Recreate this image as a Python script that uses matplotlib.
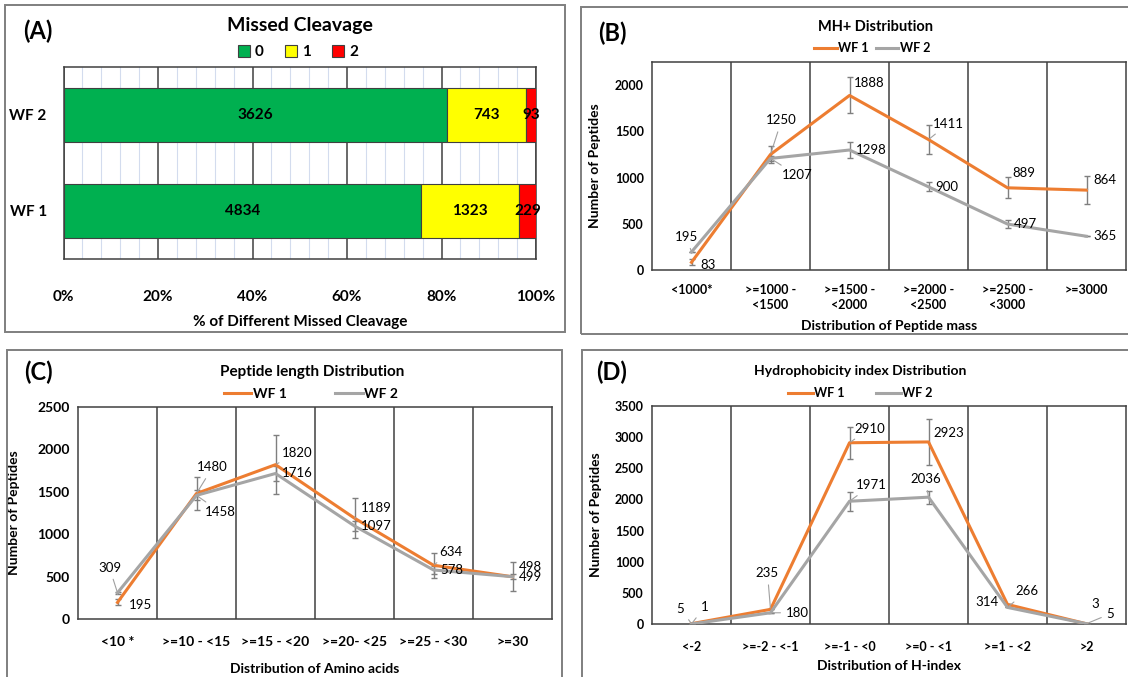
import matplotlib
matplotlib.use("Agg")
import matplotlib.pyplot as plt
from matplotlib.patches import Rectangle, Patch
from matplotlib.lines import Line2D
import numpy as np

plt.rcParams['font.family'] = ['Lato', 'DejaVu Sans']

# ---------------- data ----------------
# (A) Missed cleavage
mc_groups = ["WF 1", "WF 2"]
mc_classes = ["0", "1", "2"]
mc_wf1 = [4834, 1323, 229]
mc_wf2 = [3626, 743, 93]
mc_colors = ["#00B050", "#FFFF00", "#FF0000"]
mc_ticks = ["0%", "20%", "40%", "60%", "80%", "100%"]

# (B) MH+ distribution
mh_cats = ["<1000*", ">=1000 -\n<1500", ">=1500 -\n<2000", ">=2000 -\n<2500", ">=2500 -\n<3000", ">=3000"]
mh_wf1 = [83, 1250, 1888, 1411, 889, 864]
mh_wf2 = [195, 1207, 1298, 900, 497, 365]
mh_err1 = [31, 95, 195, 157, 113, 150]
mh_err2 = [0, 30, 87, 50, 40, 0]

# (C) Peptide length distribution
pl_cats = ["<10 *", ">=10 - <15", ">=15 - <20", ">=20- <25", ">=25 - <30", ">=30"]
pl_wf1 = [195, 1480, 1820, 1189, 634, 498]
pl_wf2 = [309, 1458, 1716, 1097, 578, 499]
pl_err1 = [35, 200, 350, 235, 148, 170]
pl_err2 = [15, 60, 90, 55, 50, 30]

# (D) Hydrophobicity index distribution
hi_cats = ["<-2", ">=-2 - <-1", ">=-1 - <0", ">=0 - <1", ">=1 - <2", ">2"]
hi_wf1 = [5, 235, 2910, 2923, 314, 3]
hi_wf2 = [1, 180, 1971, 2036, 266, 5]
hi_err1 = [0, 0, 259, 375, 0, 0]
hi_err2 = [0, 0, 150, 107, 0, 0]

ORANGE = "#ED7D31"
GRAY = "#A5A5A5"
EGRAY = "#7F7F7F"
DARK = "#404040"

W, H = 1128, 677
fig = plt.figure(figsize=(W / 100, H / 100), dpi=100)


def fx(px):
    return px / W


def fy(py):
    return 1 - py / H


def add_axes(l, t, r, b):
    return fig.add_axes([fx(l), fy(b), fx(r) - fx(l), fy(t) - fy(b)])


# panel frames
for (l, t, r, b) in [(5, 5, 565, 332), (581, 7, 1140, 334), (7, 350, 562, 690), (582, 350, 1140, 690)]:
    fig.add_artist(Rectangle((fx(l), fy(b)), fx(r) - fx(l), fy(t) - fy(b), transform=fig.transFigure,
                             fill=False, edgecolor="#7F7F7F", lw=1.4, clip_on=False))

for lab, (x, y) in zip(["(A)", "(B)", "(C)", "(D)"], [(38, 31), (612, 33), (38, 372), (612, 372)]):
    fig.text(fx(x), fy(y), lab, fontsize=17, fontweight="bold", ha="center", va="center")

# ---------------- (A) ----------------
axA = add_axes(63.5, 67, 536, 259)
tot1 = sum(mc_wf1)
tot2 = sum(mc_wf2)
vals = [mc_wf1, mc_wf2]
tots = [tot1, tot2]
ypos = np.arange(len(mc_groups))
for ci in range(len(mc_classes)):
    widths = [v[ci] / t * 100 for v, t in zip(vals, tots)]
    lefts = [sum(v[:ci]) / t * 100 for v, t in zip(vals, tots)]
    axA.barh(ypos, widths, left=lefts, height=0.57, color=mc_colors[ci], edgecolor="#404040",
             lw=0.8, label=mc_classes[ci], zorder=3)
    for yi, (w, l, v) in enumerate(zip(widths, lefts, vals)):
        axA.text(l + w / 2, yi, str(v[ci]), ha="center", va="center", fontsize=11,
                 fontweight="bold", zorder=4)
axA.set_xlim(0, 100)
axA.set_ylim(-0.5, 1.5)
axA.set_xticks(np.arange(0, 101, 20))
axA.set_xticklabels(mc_ticks, fontsize=11, fontweight="bold")
axA.set_xticks(np.arange(0, 101, 4), minor=True)
axA.set_yticks(ypos)
axA.set_yticklabels(mc_groups, fontsize=11, fontweight="bold")
axA.grid(axis="x", which="major", color="#404040", lw=1.1, zorder=1)
axA.grid(axis="x", which="minor", color="#D3DCEE", lw=0.8, zorder=0)
axA.tick_params(which="both", length=0)
axA.tick_params(axis="x", pad=22)
axA.tick_params(axis="y", pad=12)
for s in axA.spines.values():
    s.set_color("#404040")
    s.set_linewidth(1.1)
axA.set_xlabel("% of Different Missed Cleavage", fontsize=11, fontweight="bold", labelpad=8)
fig.text(fx(300), fy(25), "Missed Cleavage", fontsize=14, fontweight="bold", ha="center", va="center")
handlesA = [Patch(facecolor=c, edgecolor="#404040", lw=0.8) for c in mc_colors]
fig.legend(handlesA, mc_classes, loc="center", bbox_to_anchor=(fx(298), fy(52)), ncol=3, frameon=False,
           prop={"size": 11, "weight": "bold"}, handlelength=0.8, handleheight=0.8, handletextpad=0.3,
           columnspacing=1.4)


# ---------------- line panels ----------------
def line_panel(ax, cats, w1, w2, e1, e2, ymax, yticks, tick_fs):
    x = np.arange(len(cats))
    ax.errorbar(x, w1, yerr=e1, fmt="none", ecolor=EGRAY, elinewidth=1, capsize=2.5, capthick=1, zorder=3)
    ax.errorbar(x, w2, yerr=e2, fmt="none", ecolor=EGRAY, elinewidth=1, capsize=2.5, capthick=1, zorder=3)
    ax.plot(x, w1, color=ORANGE, lw=2.2, zorder=4, label="WF 1")
    ax.plot(x, w2, color=GRAY, lw=2.2, zorder=5, label="WF 2")
    ax.set_xlim(-0.5, len(cats) - 0.5)
    ax.set_ylim(0, ymax)
    ax.set_yticks(yticks)
    ax.set_yticklabels([str(t) for t in yticks], fontsize=tick_fs, fontweight="bold")
    ax.set_xticks(x)
    ax.set_xticklabels(cats, fontsize=tick_fs, fontweight="bold", linespacing=1.35)
    ax.set_xticks(np.arange(0.5, len(cats) - 1, 1), minor=True)
    ax.grid(axis="x", which="minor", color=DARK, lw=1.1)
    ax.tick_params(which="both", length=0)
    ax.tick_params(axis="y", pad=6)
    for s in ax.spines.values():
        s.set_color(DARK)
        s.set_linewidth(1.1)
    ax.set_ylabel("Number of Peptides", fontsize=10, fontweight="bold")
    return x


def dlabel(ax, x, y, txt, dx, dy, fs, leader=False):
    kw = {}
    if leader:
        kw["arrowprops"] = dict(arrowstyle="-", color="#A0A0A0", lw=0.8, shrinkA=2, shrinkB=1)
    ax.annotate(txt, (x, y), xytext=(dx, dy), textcoords="offset pixels", ha="center", va="center",
                fontsize=fs, zorder=6, **kw)


LFS = 9.5

# (B)
axB = add_axes(652, 62, 1126, 270)
xB = line_panel(axB, mh_cats, mh_wf1, mh_wf2, mh_err1, mh_err2, 2250, [0, 500, 1000, 1500, 2000], 9)
axB.tick_params(axis="x", pad=10)
axB.set_xlabel("Distribution of Peptide mass", fontsize=10, fontweight="bold", labelpad=6)
axB.yaxis.set_label_coords(fx(601 - 652) / (fx(1126) - fx(652)), 0.5)
offB1 = [(17, -3, False), (11, 34, True), (20, 12, False), (20, 16, True), (16, 15, False), (18, 10, True)]
offB2 = [(-5, 15, True), (27, -17, True), (22, 0, False), (18, 0, False), (18, 0, False), (18, 0, False)]
for i in range(len(mh_cats)):
    dlabel(axB, xB[i], mh_wf1[i], str(mh_wf1[i]), offB1[i][0], offB1[i][1], LFS, offB1[i][2])
    dlabel(axB, xB[i], mh_wf2[i], str(mh_wf2[i]), offB2[i][0], offB2[i][1], LFS, offB2[i][2])
fig.text(fx(876), fy(27), "MH+ Distribution", fontsize=10.5, fontweight="bold", ha="center", va="center")
fig.legend(handles=[Line2D([], [], color=ORANGE, lw=2.2), Line2D([], [], color=GRAY, lw=2.2)],
           labels=["WF 1", "WF 2"], loc="center", bbox_to_anchor=(fx(872), fy(48)), ncol=2, frameon=False,
           prop={"size": 9, "weight": "bold"}, handlelength=1.8, handletextpad=0.1, columnspacing=0.6)

# (C)
axC = add_axes(78, 407, 552, 619)
xC = line_panel(axC, pl_cats, pl_wf1, pl_wf2, pl_err1, pl_err2, 2500, [0, 500, 1000, 1500, 2000, 2500], 10)
axC.tick_params(axis="x", pad=12)
axC.set_xlabel("Distribution of Amino acids", fontsize=10, fontweight="bold", labelpad=11)
axC.yaxis.set_label_coords(fx(20 - 78) / (fx(552) - fx(78)), 0.5)
offC1 = [(23, -3, False), (16, 26, True), (22, 12, True), (22, 10, True), (17, 13, True), (18, 10, True)]
offC2 = [(-8, 25, True), (24, -17, True), (22, 0, False), (22, 0, False), (18, 0, False), (18, 0, False)]
for i in range(len(pl_cats)):
    dlabel(axC, xC[i], pl_wf1[i], str(pl_wf1[i]), offC1[i][0], offC1[i][1], LFS, offC1[i][2])
    dlabel(axC, xC[i], pl_wf2[i], str(pl_wf2[i]), offC2[i][0], offC2[i][1], LFS, offC2[i][2])
fig.text(fx(312), fy(372), "Peptide length Distribution", fontsize=11, fontweight="bold", ha="center", va="center")
fig.legend(handles=[Line2D([], [], color=ORANGE, lw=2.2), Line2D([], [], color=GRAY, lw=2.2)],
           labels=["WF 1", "WF 2"], loc="center", bbox_to_anchor=(fx(311), fy(394)), ncol=2, frameon=False,
           prop={"size": 10, "weight": "bold"}, handlelength=2.0, handletextpad=0.1, columnspacing=3.5)

# (D)
axD = add_axes(652, 406, 1126, 624)
xD = line_panel(axD, hi_cats, hi_wf1, hi_wf2, hi_err1, hi_err2, 3500, list(range(0, 3501, 500)), 9)
axD.tick_params(axis="x", pad=12)
axD.set_xlabel("Distribution of H-index", fontsize=10, fontweight="bold", labelpad=5)
axD.yaxis.set_label_coords(fx(602 - 652) / (fx(1126) - fx(652)), 0.5)
offD1 = [(-11, 15, True), (-3, 36, True), (20, 14, True), (20, 9, False), (-21, 2, False), (9, 20, False)]
offD2 = [(13, 17, True), (27, 0, True), (22, 16, True), (-3, 18, True), (19, 16, True), (24, 10, True)]
for i in range(len(hi_cats)):
    dlabel(axD, xD[i], hi_wf1[i], str(hi_wf1[i]), offD1[i][0], offD1[i][1], LFS, offD1[i][2])
    dlabel(axD, xD[i], hi_wf2[i], str(hi_wf2[i]), offD2[i][0], offD2[i][1], LFS, offD2[i][2])
fig.text(fx(860), fy(371), "Hydrophobicity index Distribution", fontsize=10, fontweight="bold",
         ha="center", va="center")
fig.legend(handles=[Line2D([], [], color=ORANGE, lw=2.2), Line2D([], [], color=GRAY, lw=2.2)],
           labels=["WF 1", "WF 2"], loc="center", bbox_to_anchor=(fx(860), fy(393)), ncol=2, frameon=False,
           prop={"size": 9, "weight": "bold"}, handlelength=2.0, handletextpad=0.1, columnspacing=2.5)

fig.savefig("out.png", dpi=100)
